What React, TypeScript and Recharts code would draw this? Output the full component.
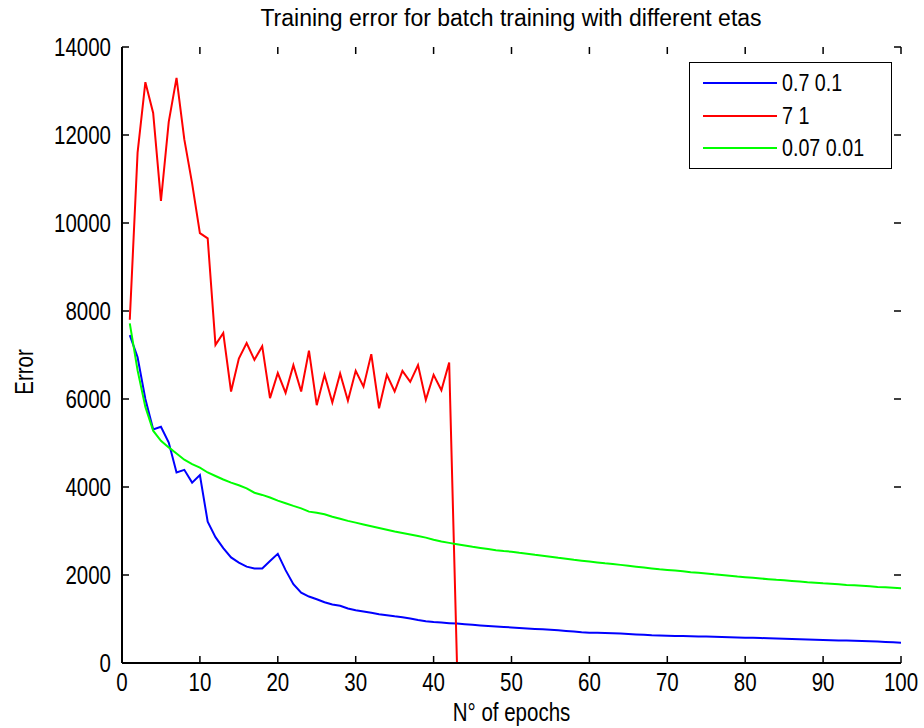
import { LineChart, Line, XAxis, YAxis, Legend, CartesianGrid } from "recharts"

const epochs = Array.from({ length: 100 }, (_, i) => i + 1)
const xTicks = [0, 10, 20, 30, 40, 50, 60, 70, 80, 90, 100]
const yTicks = [0, 2000, 4000, 6000, 8000, 10000, 12000, 14000]

// eta 0.7 / 0.1
const errEta07 = [
  7450, 6950, 6000, 5310, 5370, 5010, 4330, 4390, 4100, 4270,
  3210, 2860, 2610, 2400, 2280, 2190, 2150, 2150, 2320, 2480,
  2110, 1790, 1600, 1510, 1450, 1380, 1330, 1300, 1240, 1200,
  1170, 1140, 1110, 1085, 1060, 1040, 1010, 975, 950, 930,
  918, 905, 895, 880, 868, 855, 842, 830, 818, 808,
  795, 785, 775, 765, 755, 745, 730, 715, 700, 690,
  685, 680, 675, 670, 660, 650, 640, 630, 625, 620,
  615, 612, 608, 605, 600, 595, 590, 585, 580, 576,
  572, 567, 562, 557, 552, 547, 540, 533, 528, 523,
  518, 514, 510, 505, 500, 495, 486, 478, 470, 462,
]

// eta 7 / 1 (blows up after epoch 43)
const errEta7 = [
  7800, 11600, 13200, 12500, 10500, 12300, 13300, 11900, 10900, 9770,
  9650, 7230, 7500, 6170, 6920, 7270, 6890, 7200, 6020, 6590,
  6140, 6770, 6170, 7100, 5860, 6550, 5920, 6580, 5960, 6640,
  6280, 7020, 5790, 6550, 6170, 6640, 6390, 6770, 5980, 6550,
  6200, 6830, 0,
]

// eta 0.07 / 0.01
const errEta007 = [
  7720, 6650, 5820, 5280, 5050, 4900, 4760, 4620, 4520, 4440,
  4330, 4250, 4170, 4100, 4040, 3970, 3870, 3820, 3760, 3690,
  3630, 3570, 3515, 3440, 3415, 3380, 3325, 3280, 3230, 3190,
  3150, 3110, 3070, 3030, 2990, 2955, 2920, 2885, 2850, 2800,
  2760, 2730, 2700, 2670, 2640, 2615, 2590, 2565, 2545, 2530,
  2505, 2485, 2460, 2440, 2415, 2390, 2370, 2345, 2325, 2305,
  2285, 2265, 2250, 2230, 2210, 2190, 2170, 2150, 2130, 2115,
  2100, 2085, 2065, 2050, 2035, 2015, 2000, 1985, 1965, 1950,
  1935, 1920, 1905, 1890, 1880, 1865, 1850, 1835, 1825, 1810,
  1800, 1790, 1775, 1765, 1755, 1745, 1730, 1720, 1710, 1700,
]

const seriesNames = ["0.7 0.1", "7 1", "0.07 0.01"]
const seriesColors = ["#0000ff", "#ff0000", "#00ff00"]

const data = epochs.map((epoch, i) => ({
  epoch,
  a: errEta07[i],
  b: i < errEta7.length ? errEta7[i] : null,
  c: errEta007[i],
}))

const FONT = '"Liberation Sans", Arial, sans-serif'
const FS = 25
const SQUEEZE = 0.82 // the matlab export is horizontally squashed
const TICK_LEN = 7

// eslint-disable-next-line @typescript-eslint/no-explicit-any
function BottomTick({ x, y, payload }: any) {
  return (
    <text
      transform={`translate(${x},${y}) scale(${SQUEEZE},1)`}
      dy="0.72em"
      textAnchor="middle"
      fontSize={FS}
      fontFamily={FONT}
      fill="#000"
    >
      {payload.value}
    </text>
  )
}

// eslint-disable-next-line @typescript-eslint/no-explicit-any
function LeftTick({ x, y, payload }: any) {
  return (
    <text
      transform={`translate(${x},${y}) scale(${SQUEEZE},1)`}
      dy="0.36em"
      textAnchor="end"
      fontSize={FS}
      fontFamily={FONT}
      fill="#000"
    >
      {payload.value}
    </text>
  )
}

// inward tick marks on all four sides, drawn as short grid stubs
// eslint-disable-next-line @typescript-eslint/no-explicit-any
function HStub({ x1, x2, y1 }: any) {
  return (
    <g>
      <line x1={x1} x2={x1 + TICK_LEN} y1={y1} y2={y1} stroke="#000" strokeWidth={1.5} />
      <line x1={x2 - TICK_LEN} x2={x2} y1={y1} y2={y1} stroke="#000" strokeWidth={1.5} />
    </g>
  )
}

// eslint-disable-next-line @typescript-eslint/no-explicit-any
function VStub({ x1, y1, y2 }: any) {
  const top = Math.min(y1, y2)
  const bottom = Math.max(y1, y2)
  return (
    <g>
      <line x1={x1} x2={x1} y1={top} y2={top + TICK_LEN} stroke="#000" strokeWidth={1.5} />
      <line x1={x1} x2={x1} y1={bottom - TICK_LEN} y2={bottom} stroke="#000" strokeWidth={1.5} />
    </g>
  )
}

function LegendBox() {
  return (
    <div
      style={{
        border: "1.5px solid #000",
        background: "#fff",
        width: 203,
        height: 107,
        boxSizing: "border-box",
        paddingTop: 4,
        fontFamily: FONT,
        fontSize: 24,
        lineHeight: 1,
      }}
    >
      {seriesNames.map((name, i) => (
        <div key={name} style={{ display: "flex", alignItems: "center", height: 32.5 }}>
          <div style={{ width: 74, height: 2, background: seriesColors[i], marginLeft: 13, marginRight: 5 }} />
          <span style={{ display: "inline-block", transform: `scaleX(${SQUEEZE})`, transformOrigin: "left center" }}>
            {name}
          </span>
        </div>
      ))}
    </div>
  )
}

// eslint-disable-next-line @typescript-eslint/no-explicit-any
function ErrorLabel({ viewBox }: any) {
  const cy = viewBox.y + viewBox.height / 2 + 17
  return (
    <text
      transform={`translate(33,${cy}) rotate(-90) scale(${SQUEEZE},1)`}
      textAnchor="middle"
      fontSize={FS}
      fontFamily={FONT}
      fill="#000"
    >
      Error
    </text>
  )
}

// eslint-disable-next-line @typescript-eslint/no-explicit-any
function EpochLabel({ viewBox }: any) {
  const cx = viewBox.x + viewBox.width / 2
  return (
    <text
      transform={`translate(${cx},${viewBox.y + viewBox.height - 7}) scale(${SQUEEZE},1)`}
      textAnchor="middle"
      fontSize={FS}
      fontFamily={FONT}
      fill="#000"
    >
      N° of epochs
    </text>
  )
}

const axisLine = { stroke: "#000", strokeWidth: 2 }

export default function App() {
  return (
    <div style={{ position: "absolute", left: 0, top: 0, width: 924, height: 728, background: "#fff" }}>
      <div
        style={{
          position: "absolute",
          top: 5,
          left: 0,
          width: 1022,
          textAlign: "center",
          fontFamily: FONT,
          fontSize: 23,
          color: "#000",
        }}
      >
        Training error for batch training with different etas
      </div>
      <LineChart width={924} height={728} data={data} margin={{ top: 47, right: 23, bottom: 0, left: 12 }}>
        <CartesianGrid horizontal={<HStub />} vertical={<VStub />} stroke="#000" />
        <XAxis
          dataKey="epoch"
          type="number"
          domain={[0, 100]}
          ticks={xTicks}
          allowDataOverflow
          height={65}
          tickSize={0}
          tickMargin={10}
          tick={<BottomTick />}
          axisLine={axisLine}
          tickLine={false}
          label={<EpochLabel />}
        />
        <XAxis
          xAxisId="top"
          orientation="top"
          dataKey="epoch"
          type="number"
          domain={[0, 100]}
          ticks={xTicks}
          allowDataOverflow
          height={0}
          tick={false}
          axisLine={axisLine}
          tickLine={false}
        />
        <YAxis
          type="number"
          domain={[0, 14000]}
          ticks={yTicks}
          allowDataOverflow
          width={110}
          tickSize={0}
          tickMargin={11}
          tick={<LeftTick />}
          axisLine={axisLine}
          tickLine={false}
          label={<ErrorLabel />}
        />
        <YAxis
          yAxisId="right"
          orientation="right"
          type="number"
          domain={[0, 14000]}
          ticks={yTicks}
          allowDataOverflow
          width={0}
          tick={false}
          axisLine={axisLine}
          tickLine={false}
        />
        <Legend
          layout="vertical"
          align="center"
          verticalAlign="middle"
          content={<LegendBox />}
          wrapperStyle={{ left: 689, top: 62, width: 203 }}
        />
        <Line type="linear" dataKey="a" name={seriesNames[0]} stroke={seriesColors[0]} strokeWidth={2} dot={false} isAnimationActive={false} />
        <Line type="linear" dataKey="b" name={seriesNames[1]} stroke={seriesColors[1]} strokeWidth={2} dot={false} isAnimationActive={false} />
        <Line type="linear" dataKey="c" name={seriesNames[2]} stroke={seriesColors[2]} strokeWidth={2} dot={false} isAnimationActive={false} />
      </LineChart>
    </div>
  )
}
